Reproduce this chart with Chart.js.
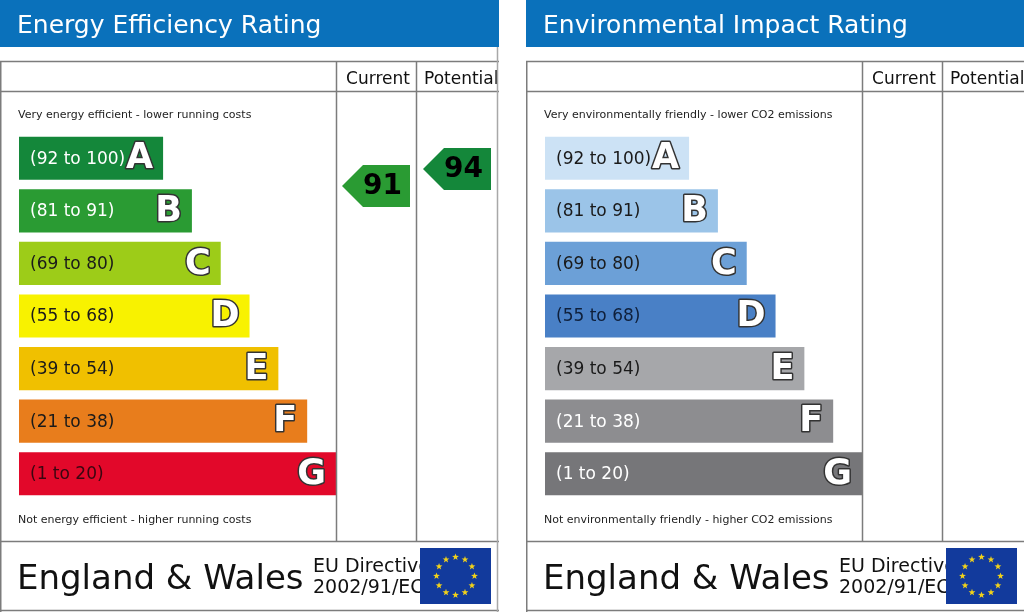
<!DOCTYPE html>
<html>
<head>
<meta charset="utf-8">
<script src="https://cdn.jsdelivr.net/npm/chart.js@4.4.1/dist/chart.umd.min.js"></script>
<style>
  html, body { margin: 0; padding: 0; background: #fff; }
  body { width: 1024px; height: 612px; position: relative; overflow: hidden; }
  canvas { position: absolute; top: 0; }
  #energy { left: 0; }
  #environment { left: 526px; }
</style>
</head>
<body>
<canvas id="energy" width="499" height="612"></canvas>
<canvas id="environment" width="498" height="612"></canvas>
<script>
// bands, top (best) to bottom (worst)
const bands = ["A", "B", "C", "D", "E", "F", "G"];
const bandRanges = ["(92 to 100)", "(81 to 91)", "(69 to 80)", "(55 to 68)", "(39 to 54)", "(21 to 38)", "(1 to 20)"];
const bandMin = [92, 81, 69, 55, 39, 21, 1];
const bandMax = [100, 91, 80, 68, 54, 38, 20];
// relative bar lengths (A shortest, G longest)
const barLength = [5, 6, 7, 8, 9, 10, 11];

const energyColours = ["#14873a", "#2a9b33", "#9dcc18", "#f8f200", "#f0c000", "#e87d1c", "#e2082a"];
const energyTextColours = ["#ffffff", "#ffffff", "#1a1a1a", "#1a1a1a", "#1a1a1a", "#1a1a1a", "#3a0610"];
const envColours = ["#cce2f5", "#9bc4e8", "#6ca0d7", "#4980c6", "#a6a7aa", "#8d8d90", "#767679"];
const envTextColours = ["#1a1a1a", "#1a1a1a", "#1a1a1a", "#0f1f3a", "#1a1a1a", "#ffffff", "#ffffff"];

const energyCurrent = 91;
const energyPotential = 94;
const envCurrent = null;
const envPotential = null;

const FONT = '"DejaVu Sans", Verdana, sans-serif';
const LINE = "#7c7c7c";

function bandOf(score) {
  for (let i = 0; i < bands.length; i++) {
    if (score >= bandMin[i] && score <= bandMax[i]) return i;
  }
  return bands.length - 1;
}

// fractional category position of a score inside its band
function scorePos(score) {
  const i = bandOf(score);
  return i - 0.5 + (bandMax[i] - score + 0.5) / (bandMax[i] - bandMin[i] + 1);
}

function drawStar(c, x, y, r) {
  c.beginPath();
  for (let k = 0; k < 10; k++) {
    const a = -Math.PI / 2 + k * Math.PI / 5;
    const rr = k % 2 === 0 ? r : r * 0.4;
    c.lineTo(x + rr * Math.cos(a), y + rr * Math.sin(a));
  }
  c.closePath();
  c.fill();
}

function drawArrow(chart, score, colour, left, right) {
  if (score == null) return;
  const c = chart.ctx;
  const y = chart.scales.y.getPixelForValue(scorePos(score)) - 1;
  const h = 21;
  c.fillStyle = colour;
  c.beginPath();
  c.moveTo(left, y);
  c.lineTo(left + h, y - h);
  c.lineTo(right, y - h);
  c.lineTo(right, y + h);
  c.lineTo(left + h, y + h);
  c.closePath();
  c.fill();
  c.fillStyle = "#000";
  c.font = "bold 28px " + FONT;
  c.textAlign = "center";
  c.textBaseline = "middle";
  c.fillText(String(score), (left + h + right) / 2 - 4, y + 1);
}

const epcPlugin = {
  id: "epc",
  beforeDraw(chart, args, o) {
    const c = chart.ctx;
    const W = chart.width;
    c.save();
    c.fillStyle = "#fff";
    c.fillRect(0, 0, W, chart.height);
    c.fillStyle = "#0a71bb";
    c.fillRect(0, 0, W, 47);
    c.fillStyle = "#fff";
    c.font = "25px " + FONT;
    c.textBaseline = "alphabetic";
    c.textAlign = "left";
    c.fillText(o.title, 17, 33);

    c.fillStyle = "#222";
    c.font = "11px " + FONT;
    c.fillText(o.topCaption, 18, 118);
    c.fillText(o.bottomCaption, 18, 523);

    c.fillStyle = "#111";
    c.font = "17px " + FONT;
    c.textAlign = "center";
    c.fillText("Current", 378, 84);
    c.textAlign = "left";
    c.fillText("Potential", 424, 84);

    // footer
    c.font = "34px " + FONT;
    c.fillText("England & Wales", 17, 589);
    c.font = "19px " + FONT;
    c.fillText("EU Directive", 313, 572);
    c.fillText("2002/91/EC", 313, 593);

    // EU flag
    c.fillStyle = "#123a9c";
    c.fillRect(420, 548, 71, 56);
    c.fillStyle = "#f2d21a";
    for (let k = 0; k < 12; k++) {
      const a = k * Math.PI / 6;
      drawStar(c, 455.5 + 19 * Math.cos(a), 576 + 19 * Math.sin(a), 3.6);
    }
    c.restore();
  },
  afterDatasetsDraw(chart, args, o) {
    const c = chart.ctx;
    const meta = chart.getDatasetMeta(0);
    c.save();
    meta.data.forEach((bar, i) => {
      const y = bar.y;
      const right = bar.x;
      c.textBaseline = "middle";
      c.textAlign = "left";
      c.font = "17px " + FONT;
      c.fillStyle = o.textColours[i];
      c.fillText(bandRanges[i], 30, y + 1);
      c.textAlign = "right";
      c.font = "bold 35px " + FONT;
      c.lineJoin = "round";
      c.lineWidth = 3;
      c.strokeStyle = "#333";
      c.strokeText(bands[i], right - 10, y + 1);
      c.fillStyle = "#fff";
      c.fillText(bands[i], right - 10, y + 1);
    });

    drawArrow(chart, o.current, o.colours[bandOf(o.current || 1)], 342, 410);
    drawArrow(chart, o.potential, o.colours[bandOf(o.potential || 1)], 423, 491);

    // table lines
    c.strokeStyle = LINE;
    c.lineWidth = 1.5;
    c.beginPath();
    c.moveTo(0, 61.5); c.lineTo(chart.width, 61.5);
    c.moveTo(0, 91.5); c.lineTo(chart.width, 91.5);
    c.moveTo(0, 541.5); c.lineTo(chart.width, 541.5);
    c.moveTo(0, 610.5); c.lineTo(chart.width, 610.5);
    c.moveTo(0.75, 61); c.lineTo(0.75, 612);
    c.moveTo(336.5, 61); c.lineTo(336.5, 541);
    c.moveTo(416.5, 61); c.lineTo(416.5, 541);
    c.stroke();
    if (o.rightBorder) {
      c.strokeStyle = "#a8a8a8";
      c.beginPath();
      c.moveTo(497.5, 47); c.lineTo(497.5, 612);
      c.stroke();
    }
    c.restore();
  }
};

function makeChart(id, opts) {
  const canvas = document.getElementById(id);
  return new Chart(canvas, {
    type: "bar",
    data: {
      labels: bands,
      datasets: [{
        data: barLength,
        backgroundColor: opts.colours,
        borderWidth: 0,
        barPercentage: 0.82,
        categoryPercentage: 1
      }]
    },
    options: {
      indexAxis: "y",
      responsive: false,
      animation: false,
      layout: { padding: { left: 19, right: canvas.width - 336, top: 132, bottom: 112 } },
      scales: {
        x: { display: false, min: 0, max: 11 },
        y: { display: false }
      },
      plugins: {
        legend: { display: false },
        tooltip: { enabled: false },
        epc: opts
      }
    },
    plugins: [epcPlugin]
  });
}

makeChart("energy", {
  title: "Energy Efficiency Rating",
  topCaption: "Very energy efficient - lower running costs",
  bottomCaption: "Not energy efficient - higher running costs",
  colours: energyColours,
  textColours: energyTextColours,
  current: energyCurrent,
  potential: energyPotential,
  rightBorder: true
});

makeChart("environment", {
  title: "Environmental Impact Rating",
  topCaption: "Very environmentally friendly - lower CO2 emissions",
  bottomCaption: "Not environmentally friendly - higher CO2 emissions",
  colours: envColours,
  textColours: envTextColours,
  current: envCurrent,
  potential: envPotential,
  rightBorder: false
});
</script>
</body>
</html>
